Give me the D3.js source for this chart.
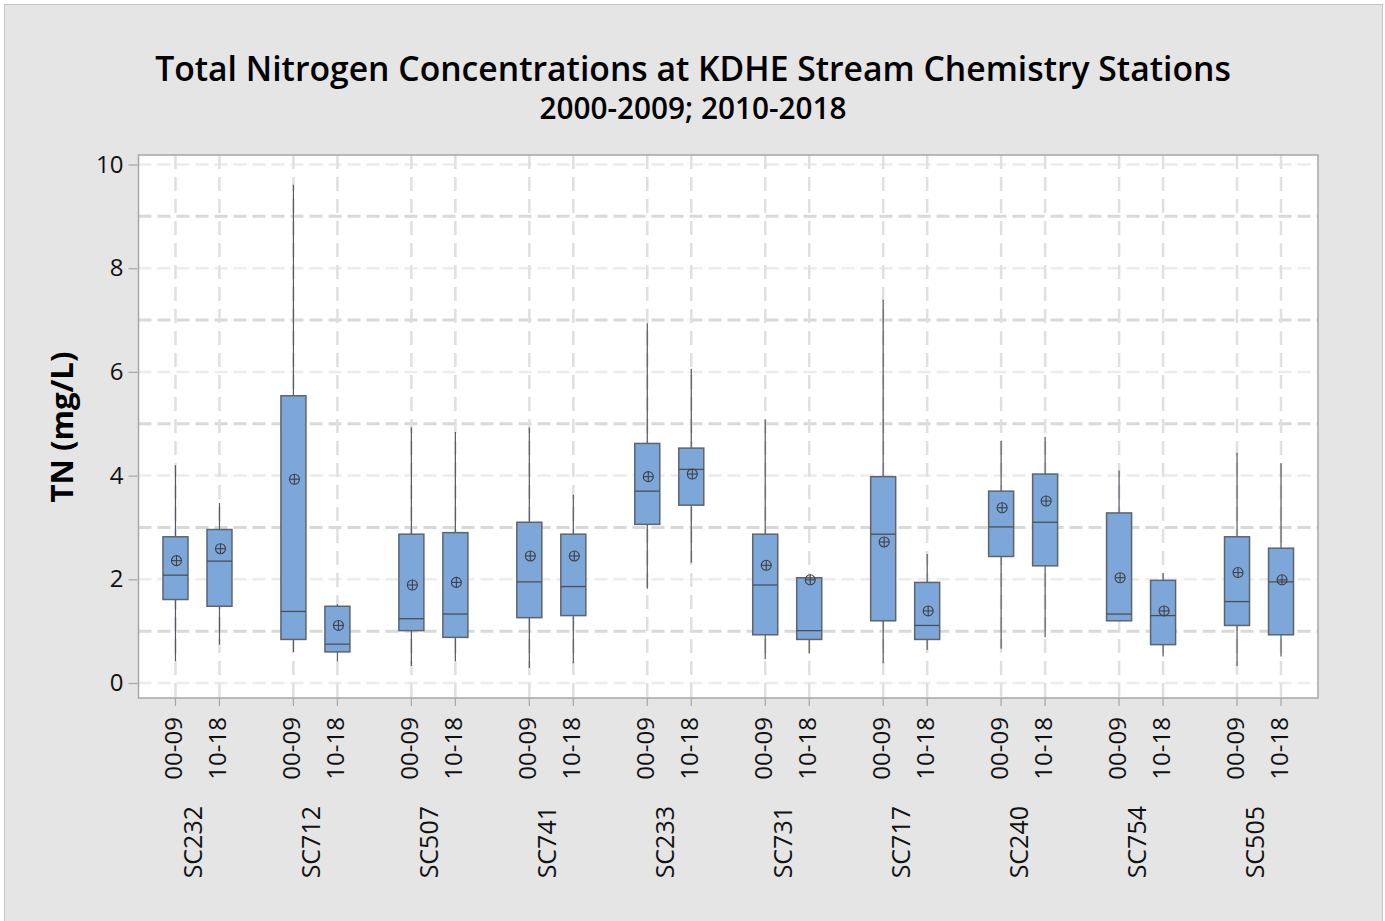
<!DOCTYPE html>
<html>
<head>
<meta charset="utf-8">
<script src="https://cdn.jsdelivr.net/npm/d3@7"></script>
<style>
  html, body { margin: 0; padding: 0; background: #ffffff; }
  svg { display: block; font-family: "Open Sans", "Noto Sans", sans-serif; }
</style>
</head>
<body>
<svg id="chart" width="1385" height="921"></svg>
<script>
// Stations and sampling periods
const stations = ["SC232", "SC712", "SC507", "SC741", "SC233", "SC731", "SC717", "SC240", "SC754", "SC505"];
const periods = ["00-09", "10-18"];

// Box statistics, one entry per station/period pair (station-major order)
const whiskerLow  = [0.42, 0.74, 0.60, 0.42, 0.33, 0.42, 0.29, 0.38, 1.82, 2.32, 0.46, 0.57, 0.38, 0.64, 0.66, 0.88, 1.20, 0.51, 0.33, 0.51];
const q1          = [1.61, 1.48, 0.84, 0.60, 1.01, 0.88, 1.26, 1.30, 3.06, 3.43, 0.93, 0.84, 1.20, 0.84, 2.44, 2.26, 1.20, 0.74, 1.11, 0.93];
const median      = [2.08, 2.35, 1.38, 0.75, 1.24, 1.33, 1.95, 1.86, 3.70, 4.12, 1.89, 1.01, 2.87, 1.11, 3.01, 3.10, 1.33, 1.30, 1.57, 1.95];
const q3          = [2.82, 2.96, 5.54, 1.48, 2.87, 2.90, 3.10, 2.87, 4.62, 4.53, 2.87, 2.03, 3.98, 1.94, 3.70, 4.03, 3.28, 1.98, 2.82, 2.60];
const whiskerHigh = [4.20, 3.47, 9.61, 1.52, 4.93, 4.84, 4.93, 3.63, 6.94, 6.06, 5.08, 2.05, 7.39, 2.49, 4.67, 4.75, 4.10, 2.12, 4.44, 4.24];
const means       = [2.36, 2.59, 3.93, 1.11, 1.89, 1.94, 2.45, 2.45, 3.98, 4.03, 2.27, 1.99, 2.72, 1.39, 3.38, 3.51, 2.03, 1.39, 2.13, 1.99];

// Y axis ticks and grid values
const yTicks = [0, 2, 4, 6, 8, 10];
const yGrid = [0, 1, 2, 3, 4, 5, 6, 7, 8, 9, 10];

const titleText = "Total Nitrogen Concentrations at KDHE Stream Chemistry Stations";
const subtitleText = "2000-2009; 2010-2018";
const yLabelText = "TN (mg/L)";

const boxes = [];
stations.forEach((s, i) => periods.forEach((p, j) => {
  const k = i * periods.length + j;
  boxes.push({ station: s, period: p, lo: whiskerLow[k], q1: q1[k], med: median[k],
               q3: q3[k], hi: whiskerHigh[k], mean: means[k] });
}));

const plot = { left: 138.5, right: 1318, top: 155, bottom: 698 };

const svg = d3.select("#chart");

// Page frame
svg.append("rect").attr("x", 4.5).attr("y", 4.5).attr("width", 1378).attr("height", 930)
  .attr("fill", "#e5e5e5").attr("stroke", "#c6c6c6").attr("stroke-width", 1);

// Scales
const y = d3.scaleLinear().domain([0, 10]).range([683, 164.5]);
const xGroup = d3.scaleBand().domain(stations).range([plot.left, plot.right]).padding(0);
const xInner = d3.scalePoint().domain(periods).range([-22, 22]);
const xPos = d => xGroup(d.station) + xGroup.bandwidth() / 2 + xInner(d.period);
const boxW = 25;

// Plot area
svg.append("rect").attr("x", plot.left).attr("y", plot.top)
  .attr("width", plot.right - plot.left).attr("height", plot.bottom - plot.top)
  .attr("fill", "#ffffff");

const grid = svg.append("g");
// Horizontal grid lines at each integer
grid.selectAll("line.h").data(yGrid).join("line")
  .attr("x1", plot.left).attr("x2", plot.right)
  .attr("y1", d => y(d)).attr("y2", d => y(d))
  .attr("stroke", d => d % 2 ? "#d9d9d9" : "#ececec")
  .attr("stroke-width", d => d % 2 ? 3 : 2.5)
  .attr("stroke-dasharray", "13,6");
// Vertical grid lines through each box
grid.selectAll("line.v").data(boxes).join("line")
  .attr("x1", xPos).attr("x2", xPos)
  .attr("y1", plot.top).attr("y2", plot.bottom)
  .attr("stroke", "#e0e0e0").attr("stroke-width", 2.5)
  .attr("stroke-dasharray", "14,8");

// Plot border
svg.append("rect").attr("x", plot.left).attr("y", plot.top)
  .attr("width", plot.right - plot.left).attr("height", plot.bottom - plot.top)
  .attr("fill", "none").attr("stroke", "#a6a6a6").attr("stroke-width", 1.5);

// Y axis
const yAxis = d3.axisLeft(y).tickValues(yTicks).tickSize(9).tickPadding(5).tickFormat(d3.format("d"));
const yg = svg.append("g").attr("transform", `translate(${plot.left - 1},0)`).call(yAxis);
yg.select(".domain").remove();
yg.selectAll(".tick line").attr("stroke", "#a6a6a6").attr("stroke-width", 1.2);
yg.selectAll(".tick text").attr("font-size", 24).attr("font-weight", 500).attr("fill", "#111")
  .attr("font-family", "'Open Sans', sans-serif");

// X ticks
const xg = svg.append("g");
xg.selectAll("line").data(boxes).join("line")
  .attr("x1", xPos).attr("x2", xPos)
  .attr("y1", plot.bottom).attr("y2", plot.bottom + 8)
  .attr("stroke", "#a6a6a6").attr("stroke-width", 1.2);
xg.selectAll("text").data(boxes).join("text")
  .attr("transform", d => `translate(${xPos(d) + 7},717) rotate(-90)`)
  .attr("text-anchor", "end")
  .attr("font-size", 24).attr("font-weight", 500).attr("fill", "#111")
  .text(d => d.period);

// Station labels
svg.append("g").selectAll("text").data(stations).join("text")
  .attr("transform", d => `translate(${xGroup(d) + xGroup.bandwidth() / 2 + 5},806) rotate(-90)`)
  .attr("text-anchor", "end")
  .attr("font-size", 25).attr("font-weight", 500).attr("fill", "#111")
  .text(d => d);

// Boxplots
const bx = svg.append("g");
const lineColor = "#555a60";
bx.selectAll("line.whisker-hi").data(boxes).join("line")
  .attr("x1", xPos).attr("x2", xPos)
  .attr("y1", d => y(d.q3)).attr("y2", d => y(d.hi))
  .attr("stroke", lineColor).attr("stroke-width", 1.2);
bx.selectAll("line.whisker-lo").data(boxes).join("line")
  .attr("x1", xPos).attr("x2", xPos)
  .attr("y1", d => y(d.q1)).attr("y2", d => y(d.lo))
  .attr("stroke", lineColor).attr("stroke-width", 1.2);
bx.selectAll("rect").data(boxes).join("rect")
  .attr("x", d => xPos(d) - boxW / 2).attr("width", boxW)
  .attr("y", d => y(d.q3)).attr("height", d => y(d.q1) - y(d.q3))
  .attr("fill", "#7da7d9").attr("stroke", "#5c6470").attr("stroke-width", 1.5);
bx.selectAll("line.median").data(boxes).join("line")
  .attr("x1", d => xPos(d) - boxW / 2).attr("x2", d => xPos(d) + boxW / 2)
  .attr("y1", d => y(d.med)).attr("y2", d => y(d.med))
  .attr("stroke", "#4a5058").attr("stroke-width", 1.3);

// Mean symbols: circle with cross
const mg = bx.selectAll("g.mean").data(boxes).join("g")
  .attr("transform", d => `translate(${xPos(d) + 1},${y(d.mean)})`);
mg.append("circle").attr("r", 5).attr("fill", "none").attr("stroke", "#3e4146").attr("stroke-width", 1.1);
mg.append("line").attr("x1", -5).attr("x2", 5).attr("stroke", "#3e4146").attr("stroke-width", 1.1);
mg.append("line").attr("y1", -5).attr("y2", 5).attr("stroke", "#3e4146").attr("stroke-width", 1.1);

// Fit text to a target width
function fit(sel, target) {
  const len = sel.node().getComputedTextLength();
  const fs = parseFloat(sel.attr("font-size"));
  sel.attr("font-size", fs * target / len);
}

// Titles
const title = svg.append("text").attr("x", 693).attr("y", 81)
  .attr("text-anchor", "middle").attr("font-size", 34).attr("font-weight", 600)
  .attr("fill", "#000").text(titleText);
fit(title, 1076);
const sub = svg.append("text").attr("x", 693).attr("y", 119)
  .attr("text-anchor", "middle").attr("font-size", 28).attr("font-weight", 600)
  .attr("fill", "#000").text(subtitleText);
fit(sub, 307);

// Y axis label
const yl = svg.append("text").attr("transform", "translate(73,427) rotate(-90)")
  .attr("text-anchor", "middle").attr("font-size", 31).attr("font-weight", 700)
  .attr("fill", "#000").text(yLabelText);
fit(yl, 151);
</script>
</body>
</html>
